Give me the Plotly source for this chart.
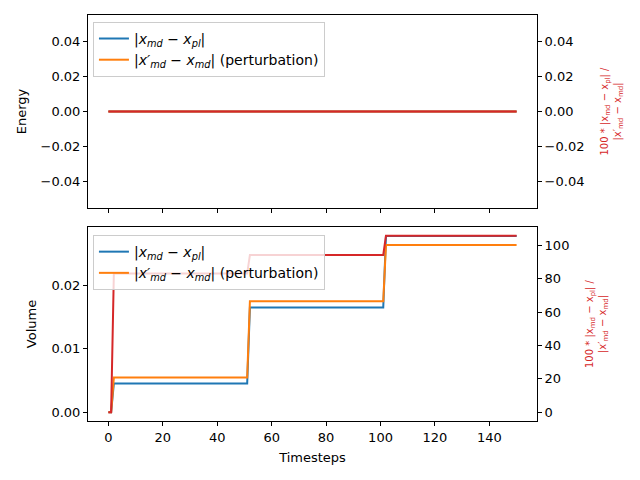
import plotly.graph_objects as go

# Energy panel: everything stays at zero
energy_steps = [0, 150]
energy_diff = [0.0, 0.0]
energy_pert = [0.0, 0.0]
energy_ratio = [0.0, 0.0]

# Volume panel: step series (timesteps where the level changes)
volume_steps = [0, 1, 2, 51, 52, 101, 102, 150]
volume_diff = [0.0, 0.0, 0.00452, 0.00452, 0.01649, 0.01649, 0.0278, 0.0278]
volume_pert = [0.0, 0.0, 0.00546, 0.00546, 0.01748, 0.01748, 0.02635, 0.02635]
volume_ratio = [0.0, 0.0, 83.0, 83.0, 94.2, 94.2, 105.6, 105.6]

BLUE = "#1f77b4"
ORANGE = "#ff7f0e"
RED = "#d62728"

name_diff = "|<i>x</i><sub><i>md</i></sub> − <i>x</i><sub><i>pl</i></sub>|"
name_pert = "|<i>x′</i><sub><i>md</i></sub> − <i>x</i><sub><i>md</i></sub>| (perturbation)"
ratio_title = ("100 * |x<sub>md</sub> − x<sub>pl</sub>| /<br>"
               "|x′<sub>md</sub> − x<sub>md</sub>|")

fig = go.Figure()

# top panel
fig.add_trace(go.Scatter(x=energy_steps, y=energy_diff, name=name_diff, mode="lines",
                         line=dict(color=BLUE, width=2), xaxis="x", yaxis="y", legend="legend"))
fig.add_trace(go.Scatter(x=energy_steps, y=energy_pert, name=name_pert, mode="lines",
                         line=dict(color=ORANGE, width=2), xaxis="x", yaxis="y", legend="legend"))
fig.add_trace(go.Scatter(x=energy_steps, y=energy_ratio, mode="lines", showlegend=False,
                         line=dict(color=RED, width=2), xaxis="x", yaxis="y2"))

# bottom panel
fig.add_trace(go.Scatter(x=volume_steps, y=volume_diff, name=name_diff, mode="lines",
                         line=dict(color=BLUE, width=2), xaxis="x2", yaxis="y3", legend="legend2"))
fig.add_trace(go.Scatter(x=volume_steps, y=volume_pert, name=name_pert, mode="lines",
                         line=dict(color=ORANGE, width=2), xaxis="x2", yaxis="y3", legend="legend2"))
fig.add_trace(go.Scatter(x=volume_steps, y=volume_ratio, mode="lines", showlegend=False,
                         line=dict(color=RED, width=2), xaxis="x2", yaxis="y4"))

ax = dict(showline=True, linecolor="black", linewidth=1, ticks="outside", ticklen=4,
          tickcolor="black", showgrid=False, zeroline=False, mirror=True, automargin=False,
          tickfont=dict(size=13))
xr = [-7.5, 157.5]
title_font = dict(size=13, color="black")
red_font = dict(size=10, color=RED)
legend_style = dict(bgcolor="rgba(255,255,255,0.8)", bordercolor="#cccccc", borderwidth=1,
                    font=dict(size=14), xanchor="left", yanchor="top", tracegroupgap=0)

# page body has an 8px margin, so the figure is a bit smaller than the window
fig.update_layout(
    width=632, height=472,
    margin=dict(l=80, r=103, t=7, b=59),
    plot_bgcolor="white", paper_bgcolor="white",
    font=dict(family="DejaVu Sans", size=13, color="black"),
    xaxis=dict(**ax, domain=[0, 1], anchor="y", range=xr, dtick=20, showticklabels=False),
    xaxis2=dict(**ax, domain=[0, 1], anchor="y3", range=xr, dtick=20, matches="x",
                title=dict(text="Timesteps", standoff=9, font=title_font)),
    yaxis=dict(**ax, domain=[0.5246, 1], anchor="x", range=[-0.055, 0.055],
               tickvals=[-0.04, -0.02, 0, 0.02, 0.04], tickformat=".2f",
               title=dict(text="Energy", standoff=11, font=title_font)),
    yaxis2=dict(**ax, overlaying="y", side="right", anchor="x", range=[-0.055, 0.055],
                tickvals=[-0.04, -0.02, 0, 0.02, 0.04], tickformat=".2f",
                title=dict(text=ratio_title, font=red_font, standoff=17)),
    yaxis3=dict(**ax, domain=[0, 0.4778], anchor="x2", range=[-0.00139, 0.0292],
                tickvals=[0, 0.01, 0.02], tickformat=".2f",
                title=dict(text="Volume", standoff=11, font=title_font)),
    yaxis4=dict(**ax, overlaying="y3", side="right", anchor="x2", range=[-5.28, 110.9],
                tickvals=[0, 20, 40, 60, 80, 100],
                title=dict(text=ratio_title, font=red_font, standoff=17)),
    legend=dict(**legend_style, x=0.011, y=0.983),
    legend2=dict(**legend_style, x=0.011, y=0.458),
)

fig.write_html("out.html")
